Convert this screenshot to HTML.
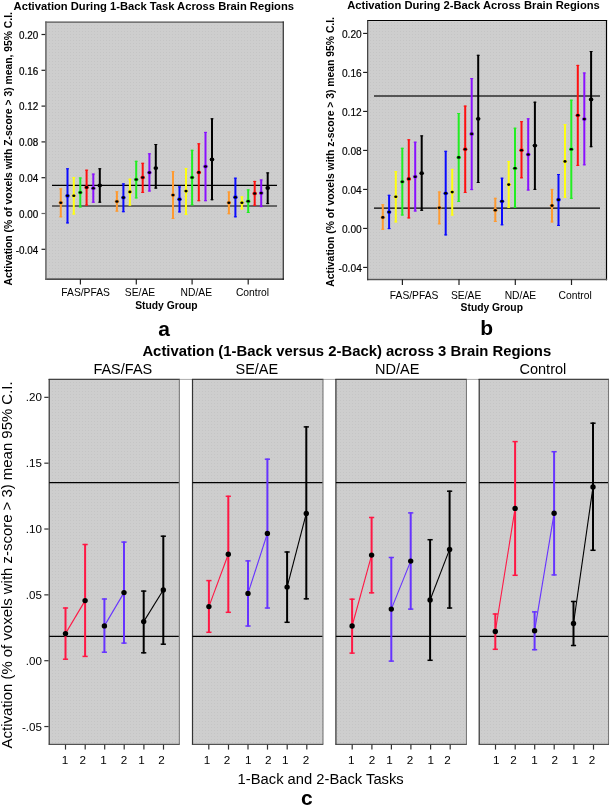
<!DOCTYPE html>
<html><head><meta charset="utf-8"><style>
html,body{margin:0;padding:0;background:#fff;}
body{width:610px;height:805px;overflow:hidden;}
svg{display:block;font-family:"Liberation Sans", sans-serif;will-change:transform;}
</style></head><body>
<svg width="610" height="805" viewBox="0 0 610 805">
<defs>
<pattern id="dots" x="0" y="0" width="3" height="3" patternUnits="userSpaceOnUse">
<rect width="3" height="3" fill="#cecece"/>
<rect x="1" y="1" width="1" height="1" fill="#c5c5c5"/>
</pattern>
</defs>
<rect width="610" height="805" fill="#fff"/>
<rect x="46.7" y="22.8" width="235.90000000000003" height="255.8" fill="url(#dots)"/>
<line x1="45.2" y1="22.15" x2="283.9" y2="22.15" stroke="#4a4a4a" stroke-width="1.3"/>
<line x1="283.25" y1="21.5" x2="283.25" y2="279.8" stroke="#333" stroke-width="1.3"/>
<line x1="45.2" y1="279.2" x2="283.9" y2="279.2" stroke="#111" stroke-width="1.3"/>
<line x1="45.95" y1="21.5" x2="45.95" y2="279.8" stroke="#666" stroke-width="1.6"/>
<line x1="41.5" y1="34.5" x2="45.2" y2="34.5" stroke="#222" stroke-width="1.2"/>
<text x="0" y="0" font-size="9.9" text-anchor="end" fill="#000" transform="translate(38.3 38.8) scale(1 1.04)" stroke="#000" stroke-width="0.2">0.20</text>
<line x1="41.5" y1="70.30000000000001" x2="45.2" y2="70.30000000000001" stroke="#222" stroke-width="1.2"/>
<text x="0" y="0" font-size="9.9" text-anchor="end" fill="#000" transform="translate(38.3 74.60000000000001) scale(1 1.04)" stroke="#000" stroke-width="0.2">0.16</text>
<line x1="41.5" y1="106.10000000000001" x2="45.2" y2="106.10000000000001" stroke="#222" stroke-width="1.2"/>
<text x="0" y="0" font-size="9.9" text-anchor="end" fill="#000" transform="translate(38.3 110.4) scale(1 1.04)" stroke="#000" stroke-width="0.2">0.12</text>
<line x1="41.5" y1="141.9" x2="45.2" y2="141.9" stroke="#222" stroke-width="1.2"/>
<text x="0" y="0" font-size="9.9" text-anchor="end" fill="#000" transform="translate(38.3 146.20000000000002) scale(1 1.04)" stroke="#000" stroke-width="0.2">0.08</text>
<line x1="41.5" y1="177.7" x2="45.2" y2="177.7" stroke="#222" stroke-width="1.2"/>
<text x="0" y="0" font-size="9.9" text-anchor="end" fill="#000" transform="translate(38.3 182.0) scale(1 1.04)" stroke="#000" stroke-width="0.2">0.04</text>
<line x1="41.5" y1="213.5" x2="45.2" y2="213.5" stroke="#666" stroke-width="1.2"/>
<text x="0" y="0" font-size="9.9" text-anchor="end" fill="#000" transform="translate(38.3 217.8) scale(1 1.04)" stroke="#000" stroke-width="0.2">0.00</text>
<line x1="41.5" y1="249.3" x2="45.2" y2="249.3" stroke="#222" stroke-width="1.2"/>
<text x="0" y="0" font-size="9.9" text-anchor="end" fill="#000" transform="translate(38.3 253.60000000000002) scale(1 1.04)" stroke="#000" stroke-width="0.2">-0.04</text>
<line x1="80.4" y1="279.1" x2="80.4" y2="284.5" stroke="#222" stroke-width="1.2"/>
<line x1="136.3" y1="279.1" x2="136.3" y2="284.5" stroke="#222" stroke-width="1.2"/>
<line x1="192.1" y1="279.1" x2="192.1" y2="284.5" stroke="#222" stroke-width="1.2"/>
<line x1="248.2" y1="279.1" x2="248.2" y2="284.5" stroke="#222" stroke-width="1.2"/>
<text x="61.3" y="295.6" font-size="10.3" text-anchor="start" fill="#000">FAS/PFAS</text>
<text x="124.8" y="295.6" font-size="10.3" text-anchor="start" fill="#000">SE/AE</text>
<text x="180.6" y="295.6" font-size="10.3" text-anchor="start" fill="#000">ND/AE</text>
<text x="235.9" y="295.6" font-size="10.3" text-anchor="start" fill="#000">Control</text>
<text x="135.2" y="309.3" font-size="10.3" font-weight="bold" text-anchor="start" fill="#000">Study Group</text>
<text x="158.2" y="336.2" font-size="21" font-weight="bold" text-anchor="start" fill="#000">a</text>
<text x="13.6" y="9.9" font-size="11.2" font-weight="bold" text-anchor="start" fill="#000">Activation During 1-Back Task Across Brain Regions</text>
<text x="12.4" y="285.4" font-size="10.35" font-weight="bold" text-anchor="start" fill="#000" transform="rotate(-90 12.4 285.4)">Activation (% of voxels with Z-score &gt; 3) mean, 95% C.I.</text>
<line x1="52" y1="185.4" x2="277" y2="185.4" stroke="#000" stroke-width="1.3"/>
<line x1="52" y1="205.9" x2="277" y2="205.9" stroke="#666" stroke-width="2"/>
<line x1="60.8" y1="188.4" x2="60.8" y2="217.3" stroke="#ff9a30" stroke-width="2"/>
<line x1="59.3" y1="188.9" x2="62.3" y2="188.9" stroke="#ff9a30" stroke-width="1"/>
<line x1="59.3" y1="216.8" x2="62.3" y2="216.8" stroke="#ff9a30" stroke-width="1"/>
<line x1="67.5" y1="168.3" x2="67.5" y2="223.4" stroke="#0a0aff" stroke-width="2"/>
<line x1="66.0" y1="168.8" x2="69.0" y2="168.8" stroke="#0a0aff" stroke-width="1"/>
<line x1="66.0" y1="222.9" x2="69.0" y2="222.9" stroke="#0a0aff" stroke-width="1"/>
<line x1="73.8" y1="177.1" x2="73.8" y2="214.5" stroke="#ffff10" stroke-width="2"/>
<line x1="72.3" y1="177.6" x2="75.3" y2="177.6" stroke="#ffff10" stroke-width="1"/>
<line x1="72.3" y1="214.0" x2="75.3" y2="214.0" stroke="#ffff10" stroke-width="1"/>
<line x1="80.3" y1="177.5" x2="80.3" y2="207.4" stroke="#22ee22" stroke-width="2"/>
<line x1="78.8" y1="178.0" x2="81.8" y2="178.0" stroke="#22ee22" stroke-width="1"/>
<line x1="78.8" y1="206.9" x2="81.8" y2="206.9" stroke="#22ee22" stroke-width="1"/>
<line x1="86.6" y1="169.7" x2="86.6" y2="205.5" stroke="#ff1010" stroke-width="2"/>
<line x1="85.1" y1="170.2" x2="88.1" y2="170.2" stroke="#ff1010" stroke-width="1"/>
<line x1="85.1" y1="205.0" x2="88.1" y2="205.0" stroke="#ff1010" stroke-width="1"/>
<line x1="93.3" y1="173.6" x2="93.3" y2="202.7" stroke="#8a10ff" stroke-width="2"/>
<line x1="91.8" y1="174.1" x2="94.8" y2="174.1" stroke="#8a10ff" stroke-width="1"/>
<line x1="91.8" y1="202.2" x2="94.8" y2="202.2" stroke="#8a10ff" stroke-width="1"/>
<line x1="99.8" y1="168.3" x2="99.8" y2="202.7" stroke="#000000" stroke-width="2"/>
<line x1="98.3" y1="168.8" x2="101.3" y2="168.8" stroke="#000000" stroke-width="1"/>
<line x1="98.3" y1="202.2" x2="101.3" y2="202.2" stroke="#000000" stroke-width="1"/>
<line x1="116.9" y1="191.3" x2="116.9" y2="211.6" stroke="#ff9a30" stroke-width="2"/>
<line x1="115.4" y1="191.8" x2="118.4" y2="191.8" stroke="#ff9a30" stroke-width="1"/>
<line x1="115.4" y1="211.1" x2="118.4" y2="211.1" stroke="#ff9a30" stroke-width="1"/>
<line x1="123.4" y1="183.4" x2="123.4" y2="212.2" stroke="#0a0aff" stroke-width="2"/>
<line x1="121.9" y1="183.9" x2="124.9" y2="183.9" stroke="#0a0aff" stroke-width="1"/>
<line x1="121.9" y1="211.7" x2="124.9" y2="211.7" stroke="#0a0aff" stroke-width="1"/>
<line x1="129.9" y1="178.7" x2="129.9" y2="205.5" stroke="#ffff10" stroke-width="2"/>
<line x1="128.4" y1="179.2" x2="131.4" y2="179.2" stroke="#ffff10" stroke-width="1"/>
<line x1="128.4" y1="205.0" x2="131.4" y2="205.0" stroke="#ffff10" stroke-width="1"/>
<line x1="136.2" y1="160.8" x2="136.2" y2="198.4" stroke="#22ee22" stroke-width="2"/>
<line x1="134.7" y1="161.3" x2="137.7" y2="161.3" stroke="#22ee22" stroke-width="1"/>
<line x1="134.7" y1="197.9" x2="137.7" y2="197.9" stroke="#22ee22" stroke-width="1"/>
<line x1="142.7" y1="162.8" x2="142.7" y2="192.9" stroke="#ff1010" stroke-width="2"/>
<line x1="141.2" y1="163.3" x2="144.2" y2="163.3" stroke="#ff1010" stroke-width="1"/>
<line x1="141.2" y1="192.4" x2="144.2" y2="192.4" stroke="#ff1010" stroke-width="1"/>
<line x1="149.4" y1="153.3" x2="149.4" y2="191.5" stroke="#8a10ff" stroke-width="2"/>
<line x1="147.9" y1="153.8" x2="150.9" y2="153.8" stroke="#8a10ff" stroke-width="1"/>
<line x1="147.9" y1="191.0" x2="150.9" y2="191.0" stroke="#8a10ff" stroke-width="1"/>
<line x1="155.8" y1="144.0" x2="155.8" y2="188.6" stroke="#000000" stroke-width="2"/>
<line x1="154.3" y1="144.5" x2="157.3" y2="144.5" stroke="#000000" stroke-width="1"/>
<line x1="154.3" y1="188.1" x2="157.3" y2="188.1" stroke="#000000" stroke-width="1"/>
<line x1="173.0" y1="171.2" x2="173.0" y2="218.9" stroke="#ff9a30" stroke-width="2"/>
<line x1="171.5" y1="171.7" x2="174.5" y2="171.7" stroke="#ff9a30" stroke-width="1"/>
<line x1="171.5" y1="218.4" x2="174.5" y2="218.4" stroke="#ff9a30" stroke-width="1"/>
<line x1="179.5" y1="186.4" x2="179.5" y2="212.4" stroke="#0a0aff" stroke-width="2"/>
<line x1="178.0" y1="186.9" x2="181.0" y2="186.9" stroke="#0a0aff" stroke-width="1"/>
<line x1="178.0" y1="211.9" x2="181.0" y2="211.9" stroke="#0a0aff" stroke-width="1"/>
<line x1="186.0" y1="168.1" x2="186.0" y2="214.9" stroke="#ffff10" stroke-width="2"/>
<line x1="184.5" y1="168.6" x2="187.5" y2="168.6" stroke="#ffff10" stroke-width="1"/>
<line x1="184.5" y1="214.4" x2="187.5" y2="214.4" stroke="#ffff10" stroke-width="1"/>
<line x1="192.1" y1="149.8" x2="192.1" y2="205.3" stroke="#22ee22" stroke-width="2"/>
<line x1="190.6" y1="150.3" x2="193.6" y2="150.3" stroke="#22ee22" stroke-width="1"/>
<line x1="190.6" y1="204.8" x2="193.6" y2="204.8" stroke="#22ee22" stroke-width="1"/>
<line x1="198.8" y1="143.3" x2="198.8" y2="201.2" stroke="#ff1010" stroke-width="2"/>
<line x1="197.3" y1="143.8" x2="200.3" y2="143.8" stroke="#ff1010" stroke-width="1"/>
<line x1="197.3" y1="200.7" x2="200.3" y2="200.7" stroke="#ff1010" stroke-width="1"/>
<line x1="205.5" y1="131.9" x2="205.5" y2="201.2" stroke="#8a10ff" stroke-width="2"/>
<line x1="204.0" y1="132.4" x2="207.0" y2="132.4" stroke="#8a10ff" stroke-width="1"/>
<line x1="204.0" y1="200.7" x2="207.0" y2="200.7" stroke="#8a10ff" stroke-width="1"/>
<line x1="212.0" y1="118.3" x2="212.0" y2="200.2" stroke="#000000" stroke-width="2"/>
<line x1="210.5" y1="118.8" x2="213.5" y2="118.8" stroke="#000000" stroke-width="1"/>
<line x1="210.5" y1="199.7" x2="213.5" y2="199.7" stroke="#000000" stroke-width="1"/>
<line x1="228.9" y1="191.5" x2="228.9" y2="214.2" stroke="#ff9a30" stroke-width="2"/>
<line x1="227.4" y1="192.0" x2="230.4" y2="192.0" stroke="#ff9a30" stroke-width="1"/>
<line x1="227.4" y1="213.7" x2="230.4" y2="213.7" stroke="#ff9a30" stroke-width="1"/>
<line x1="235.4" y1="177.7" x2="235.4" y2="217.3" stroke="#0a0aff" stroke-width="2"/>
<line x1="233.9" y1="178.2" x2="236.9" y2="178.2" stroke="#0a0aff" stroke-width="1"/>
<line x1="233.9" y1="216.8" x2="236.9" y2="216.8" stroke="#0a0aff" stroke-width="1"/>
<line x1="241.9" y1="196.4" x2="241.9" y2="209.4" stroke="#ffff10" stroke-width="2"/>
<line x1="240.4" y1="196.9" x2="243.4" y2="196.9" stroke="#ffff10" stroke-width="1"/>
<line x1="240.4" y1="208.9" x2="243.4" y2="208.9" stroke="#ffff10" stroke-width="1"/>
<line x1="248.2" y1="189.4" x2="248.2" y2="213.0" stroke="#22ee22" stroke-width="2"/>
<line x1="246.7" y1="189.9" x2="249.7" y2="189.9" stroke="#22ee22" stroke-width="1"/>
<line x1="246.7" y1="212.5" x2="249.7" y2="212.5" stroke="#22ee22" stroke-width="1"/>
<line x1="254.7" y1="180.9" x2="254.7" y2="205.7" stroke="#ff1010" stroke-width="2"/>
<line x1="253.2" y1="181.4" x2="256.2" y2="181.4" stroke="#ff1010" stroke-width="1"/>
<line x1="253.2" y1="205.2" x2="256.2" y2="205.2" stroke="#ff1010" stroke-width="1"/>
<line x1="261.2" y1="179.5" x2="261.2" y2="207.1" stroke="#8a10ff" stroke-width="2"/>
<line x1="259.7" y1="180.0" x2="262.7" y2="180.0" stroke="#8a10ff" stroke-width="1"/>
<line x1="259.7" y1="206.6" x2="262.7" y2="206.6" stroke="#8a10ff" stroke-width="1"/>
<line x1="267.7" y1="172.4" x2="267.7" y2="204.1" stroke="#000000" stroke-width="2"/>
<line x1="266.2" y1="172.9" x2="269.2" y2="172.9" stroke="#000000" stroke-width="1"/>
<line x1="266.2" y1="203.6" x2="269.2" y2="203.6" stroke="#000000" stroke-width="1"/>
<ellipse cx="60.8" cy="202.7" rx="2.3" ry="1.9" fill="#ff9a30"/>
<ellipse cx="60.8" cy="202.7" rx="1.6" ry="1.3" fill="#000"/>
<ellipse cx="67.5" cy="195.8" rx="2.3" ry="1.9" fill="#0a0aff"/>
<ellipse cx="67.5" cy="195.8" rx="1.6" ry="1.3" fill="#000"/>
<ellipse cx="73.8" cy="195.8" rx="2.3" ry="1.9" fill="#ffff10"/>
<ellipse cx="73.8" cy="195.8" rx="1.6" ry="1.3" fill="#000"/>
<ellipse cx="80.3" cy="192.5" rx="2.3" ry="1.9" fill="#22ee22"/>
<ellipse cx="80.3" cy="192.5" rx="1.6" ry="1.3" fill="#000"/>
<ellipse cx="86.6" cy="187.4" rx="2.3" ry="1.9" fill="#ff1010"/>
<ellipse cx="86.6" cy="187.4" rx="1.6" ry="1.3" fill="#000"/>
<ellipse cx="93.3" cy="188.2" rx="2.3" ry="1.9" fill="#8a10ff"/>
<ellipse cx="93.3" cy="188.2" rx="1.6" ry="1.3" fill="#000"/>
<ellipse cx="99.8" cy="185.4" rx="2.3" ry="1.9" fill="#000000"/>
<ellipse cx="99.8" cy="185.4" rx="1.6" ry="1.3" fill="#000"/>
<ellipse cx="116.9" cy="201.5" rx="2.3" ry="1.9" fill="#ff9a30"/>
<ellipse cx="116.9" cy="201.5" rx="1.6" ry="1.3" fill="#000"/>
<ellipse cx="123.4" cy="197.6" rx="2.3" ry="1.9" fill="#0a0aff"/>
<ellipse cx="123.4" cy="197.6" rx="1.6" ry="1.3" fill="#000"/>
<ellipse cx="129.9" cy="191.9" rx="2.3" ry="1.9" fill="#ffff10"/>
<ellipse cx="129.9" cy="191.9" rx="1.6" ry="1.3" fill="#000"/>
<ellipse cx="136.2" cy="179.5" rx="2.3" ry="1.9" fill="#22ee22"/>
<ellipse cx="136.2" cy="179.5" rx="1.6" ry="1.3" fill="#000"/>
<ellipse cx="142.7" cy="177.5" rx="2.3" ry="1.9" fill="#ff1010"/>
<ellipse cx="142.7" cy="177.5" rx="1.6" ry="1.3" fill="#000"/>
<ellipse cx="149.4" cy="172.6" rx="2.3" ry="1.9" fill="#8a10ff"/>
<ellipse cx="149.4" cy="172.6" rx="1.6" ry="1.3" fill="#000"/>
<ellipse cx="155.8" cy="168.1" rx="2.3" ry="1.9" fill="#000000"/>
<ellipse cx="155.8" cy="168.1" rx="1.6" ry="1.3" fill="#000"/>
<ellipse cx="173.0" cy="195.1" rx="2.3" ry="1.9" fill="#ff9a30"/>
<ellipse cx="173.0" cy="195.1" rx="1.6" ry="1.3" fill="#000"/>
<ellipse cx="179.5" cy="199.2" rx="2.3" ry="1.9" fill="#0a0aff"/>
<ellipse cx="179.5" cy="199.2" rx="1.6" ry="1.3" fill="#000"/>
<ellipse cx="186.0" cy="191.1" rx="2.3" ry="1.9" fill="#ffff10"/>
<ellipse cx="186.0" cy="191.1" rx="1.6" ry="1.3" fill="#000"/>
<ellipse cx="192.1" cy="177.5" rx="2.3" ry="1.9" fill="#22ee22"/>
<ellipse cx="192.1" cy="177.5" rx="1.6" ry="1.3" fill="#000"/>
<ellipse cx="198.8" cy="172.4" rx="2.3" ry="1.9" fill="#ff1010"/>
<ellipse cx="198.8" cy="172.4" rx="1.6" ry="1.3" fill="#000"/>
<ellipse cx="205.5" cy="166.5" rx="2.3" ry="1.9" fill="#8a10ff"/>
<ellipse cx="205.5" cy="166.5" rx="1.6" ry="1.3" fill="#000"/>
<ellipse cx="212.0" cy="159.4" rx="2.3" ry="1.9" fill="#000000"/>
<ellipse cx="212.0" cy="159.4" rx="1.6" ry="1.3" fill="#000"/>
<ellipse cx="228.9" cy="202.7" rx="2.3" ry="1.9" fill="#ff9a30"/>
<ellipse cx="228.9" cy="202.7" rx="1.6" ry="1.3" fill="#000"/>
<ellipse cx="235.4" cy="197.2" rx="2.3" ry="1.9" fill="#0a0aff"/>
<ellipse cx="235.4" cy="197.2" rx="1.6" ry="1.3" fill="#000"/>
<ellipse cx="241.9" cy="202.7" rx="2.3" ry="1.9" fill="#ffff10"/>
<ellipse cx="241.9" cy="202.7" rx="1.6" ry="1.3" fill="#000"/>
<ellipse cx="248.2" cy="201.2" rx="2.3" ry="1.9" fill="#22ee22"/>
<ellipse cx="248.2" cy="201.2" rx="1.6" ry="1.3" fill="#000"/>
<ellipse cx="254.7" cy="193.5" rx="2.3" ry="1.9" fill="#ff1010"/>
<ellipse cx="254.7" cy="193.5" rx="1.6" ry="1.3" fill="#000"/>
<ellipse cx="261.2" cy="193.1" rx="2.3" ry="1.9" fill="#8a10ff"/>
<ellipse cx="261.2" cy="193.1" rx="1.6" ry="1.3" fill="#000"/>
<ellipse cx="267.7" cy="188.0" rx="2.3" ry="1.9" fill="#000000"/>
<ellipse cx="267.7" cy="188.0" rx="1.6" ry="1.3" fill="#000"/>
<rect x="368.2" y="21.1" width="237.7" height="257.7" fill="url(#dots)"/>
<line x1="367.2" y1="20.55" x2="607.1" y2="20.55" stroke="#000" stroke-width="1.1"/>
<line x1="606.5" y1="20" x2="606.5" y2="280.3" stroke="#000" stroke-width="1.2"/>
<line x1="367.2" y1="279.55" x2="607.1" y2="279.55" stroke="#555" stroke-width="1.5"/>
<line x1="367.7" y1="20" x2="367.7" y2="280.3" stroke="#333" stroke-width="1.2"/>
<line x1="363.1" y1="33.400000000000006" x2="367.2" y2="33.400000000000006" stroke="#111" stroke-width="1.1"/>
<text x="0" y="0" font-size="10.2" text-anchor="end" fill="#000" transform="translate(361.8 38.10000000000001) scale(1 1.08)" stroke="#000" stroke-width="0.15">0.20</text>
<line x1="363.1" y1="72.4" x2="367.2" y2="72.4" stroke="#111" stroke-width="1.1"/>
<text x="0" y="0" font-size="10.2" text-anchor="end" fill="#000" transform="translate(361.8 77.10000000000001) scale(1 1.08)" stroke="#000" stroke-width="0.15">0.16</text>
<line x1="363.1" y1="111.4" x2="367.2" y2="111.4" stroke="#111" stroke-width="1.1"/>
<text x="0" y="0" font-size="10.2" text-anchor="end" fill="#000" transform="translate(361.8 116.10000000000001) scale(1 1.08)" stroke="#000" stroke-width="0.15">0.12</text>
<line x1="363.1" y1="150.4" x2="367.2" y2="150.4" stroke="#111" stroke-width="1.1"/>
<text x="0" y="0" font-size="10.2" text-anchor="end" fill="#000" transform="translate(361.8 155.1) scale(1 1.08)" stroke="#000" stroke-width="0.15">0.08</text>
<line x1="363.1" y1="189.4" x2="367.2" y2="189.4" stroke="#111" stroke-width="1.1"/>
<text x="0" y="0" font-size="10.2" text-anchor="end" fill="#000" transform="translate(361.8 194.1) scale(1 1.08)" stroke="#000" stroke-width="0.15">0.04</text>
<line x1="363.1" y1="228.4" x2="367.2" y2="228.4" stroke="#111" stroke-width="1.1"/>
<text x="0" y="0" font-size="10.2" text-anchor="end" fill="#000" transform="translate(361.8 233.1) scale(1 1.08)" stroke="#000" stroke-width="0.15">0.00</text>
<line x1="363.1" y1="267.4" x2="367.2" y2="267.4" stroke="#111" stroke-width="1.1"/>
<text x="0" y="0" font-size="10.2" text-anchor="end" fill="#000" transform="translate(361.8 272.09999999999997) scale(1 1.08)" stroke="#000" stroke-width="0.15">-0.04</text>
<line x1="402.4" y1="279.3" x2="402.4" y2="285" stroke="#222" stroke-width="1.2"/>
<line x1="459.0" y1="279.3" x2="459.0" y2="285" stroke="#222" stroke-width="1.2"/>
<line x1="515.3" y1="279.3" x2="515.3" y2="285" stroke="#222" stroke-width="1.2"/>
<line x1="571.5" y1="279.3" x2="571.5" y2="285" stroke="#222" stroke-width="1.2"/>
<text x="389.8" y="298.5" font-size="10.3" text-anchor="start" fill="#000">FAS/PFAS</text>
<text x="451.0" y="298.5" font-size="10.3" text-anchor="start" fill="#000">SE/AE</text>
<text x="504.7" y="298.5" font-size="10.3" text-anchor="start" fill="#000">ND/AE</text>
<text x="558.5" y="298.5" font-size="10.3" text-anchor="start" fill="#000">Control</text>
<text x="460.6" y="311.2" font-size="10.3" font-weight="bold" text-anchor="start" fill="#000">Study Group</text>
<text x="480.2" y="334.6" font-size="21" font-weight="bold" text-anchor="start" fill="#000">b</text>
<text x="347.2" y="8.6" font-size="11.2" font-weight="bold" text-anchor="start" fill="#000">Activation During 2-Back Across Brain Regions</text>
<text x="334.4" y="286.7" font-size="10.37" font-weight="bold" text-anchor="start" fill="#000" transform="rotate(-90 334.4 286.7)">Activation (% of voxels with z-score &gt; 3) mean 95% C.I.</text>
<line x1="374" y1="208.2" x2="600" y2="208.2" stroke="#000" stroke-width="1.3"/>
<line x1="374" y1="96.1" x2="600" y2="96.1" stroke="#555" stroke-width="2"/>
<line x1="382.8" y1="204.3" x2="382.8" y2="229.8" stroke="#ff9a30" stroke-width="2"/>
<line x1="381.3" y1="204.8" x2="384.3" y2="204.8" stroke="#ff9a30" stroke-width="1"/>
<line x1="381.3" y1="229.3" x2="384.3" y2="229.3" stroke="#ff9a30" stroke-width="1"/>
<line x1="389.1" y1="194.8" x2="389.1" y2="229.1" stroke="#0a0aff" stroke-width="2"/>
<line x1="387.6" y1="195.3" x2="390.6" y2="195.3" stroke="#0a0aff" stroke-width="1"/>
<line x1="387.6" y1="228.6" x2="390.6" y2="228.6" stroke="#0a0aff" stroke-width="1"/>
<line x1="395.8" y1="171.2" x2="395.8" y2="222.4" stroke="#ffff10" stroke-width="2"/>
<line x1="394.3" y1="171.7" x2="397.3" y2="171.7" stroke="#ffff10" stroke-width="1"/>
<line x1="394.3" y1="221.9" x2="397.3" y2="221.9" stroke="#ffff10" stroke-width="1"/>
<line x1="402.3" y1="147.8" x2="402.3" y2="215.5" stroke="#22ee22" stroke-width="2"/>
<line x1="400.8" y1="148.3" x2="403.8" y2="148.3" stroke="#22ee22" stroke-width="1"/>
<line x1="400.8" y1="215.0" x2="403.8" y2="215.0" stroke="#22ee22" stroke-width="1"/>
<line x1="408.8" y1="139.3" x2="408.8" y2="218.4" stroke="#ff1010" stroke-width="2"/>
<line x1="407.3" y1="139.8" x2="410.3" y2="139.8" stroke="#ff1010" stroke-width="1"/>
<line x1="407.3" y1="217.9" x2="410.3" y2="217.9" stroke="#ff1010" stroke-width="1"/>
<line x1="415.2" y1="141.7" x2="415.2" y2="211.5" stroke="#8a10ff" stroke-width="2"/>
<line x1="413.7" y1="142.2" x2="416.7" y2="142.2" stroke="#8a10ff" stroke-width="1"/>
<line x1="413.7" y1="211.0" x2="416.7" y2="211.0" stroke="#8a10ff" stroke-width="1"/>
<line x1="421.7" y1="135.4" x2="421.7" y2="210.8" stroke="#000000" stroke-width="2"/>
<line x1="420.2" y1="135.9" x2="423.2" y2="135.9" stroke="#000000" stroke-width="1"/>
<line x1="420.2" y1="210.3" x2="423.2" y2="210.3" stroke="#000000" stroke-width="1"/>
<line x1="439.3" y1="191.5" x2="439.3" y2="224.3" stroke="#ff9a30" stroke-width="2"/>
<line x1="437.8" y1="192.0" x2="440.8" y2="192.0" stroke="#ff9a30" stroke-width="1"/>
<line x1="437.8" y1="223.8" x2="440.8" y2="223.8" stroke="#ff9a30" stroke-width="1"/>
<line x1="445.7" y1="150.8" x2="445.7" y2="235.4" stroke="#0a0aff" stroke-width="2"/>
<line x1="444.2" y1="151.3" x2="447.2" y2="151.3" stroke="#0a0aff" stroke-width="1"/>
<line x1="444.2" y1="234.9" x2="447.2" y2="234.9" stroke="#0a0aff" stroke-width="1"/>
<line x1="452.2" y1="168.9" x2="452.2" y2="215.5" stroke="#ffff10" stroke-width="2"/>
<line x1="450.7" y1="169.4" x2="453.7" y2="169.4" stroke="#ffff10" stroke-width="1"/>
<line x1="450.7" y1="215.0" x2="453.7" y2="215.0" stroke="#ffff10" stroke-width="1"/>
<line x1="458.7" y1="113.0" x2="458.7" y2="201.9" stroke="#22ee22" stroke-width="2"/>
<line x1="457.2" y1="113.5" x2="460.2" y2="113.5" stroke="#22ee22" stroke-width="1"/>
<line x1="457.2" y1="201.4" x2="460.2" y2="201.4" stroke="#22ee22" stroke-width="1"/>
<line x1="465.2" y1="105.6" x2="465.2" y2="192.9" stroke="#ff1010" stroke-width="2"/>
<line x1="463.7" y1="106.1" x2="466.7" y2="106.1" stroke="#ff1010" stroke-width="1"/>
<line x1="463.7" y1="192.4" x2="466.7" y2="192.4" stroke="#ff1010" stroke-width="1"/>
<line x1="471.7" y1="78.1" x2="471.7" y2="190.1" stroke="#8a10ff" stroke-width="2"/>
<line x1="470.2" y1="78.6" x2="473.2" y2="78.6" stroke="#8a10ff" stroke-width="1"/>
<line x1="470.2" y1="189.6" x2="473.2" y2="189.6" stroke="#8a10ff" stroke-width="1"/>
<line x1="478.2" y1="54.8" x2="478.2" y2="183.0" stroke="#000000" stroke-width="2"/>
<line x1="476.7" y1="55.3" x2="479.7" y2="55.3" stroke="#000000" stroke-width="1"/>
<line x1="476.7" y1="182.5" x2="479.7" y2="182.5" stroke="#000000" stroke-width="1"/>
<line x1="495.3" y1="197.8" x2="495.3" y2="222.0" stroke="#ff9a30" stroke-width="2"/>
<line x1="493.8" y1="198.3" x2="496.8" y2="198.3" stroke="#ff9a30" stroke-width="1"/>
<line x1="493.8" y1="221.5" x2="496.8" y2="221.5" stroke="#ff9a30" stroke-width="1"/>
<line x1="502.0" y1="177.7" x2="502.0" y2="225.3" stroke="#0a0aff" stroke-width="2"/>
<line x1="500.5" y1="178.2" x2="503.5" y2="178.2" stroke="#0a0aff" stroke-width="1"/>
<line x1="500.5" y1="224.8" x2="503.5" y2="224.8" stroke="#0a0aff" stroke-width="1"/>
<line x1="508.7" y1="161.0" x2="508.7" y2="207.8" stroke="#ffff10" stroke-width="2"/>
<line x1="507.2" y1="161.5" x2="510.2" y2="161.5" stroke="#ffff10" stroke-width="1"/>
<line x1="507.2" y1="207.3" x2="510.2" y2="207.3" stroke="#ffff10" stroke-width="1"/>
<line x1="515.0" y1="127.7" x2="515.0" y2="207.8" stroke="#22ee22" stroke-width="2"/>
<line x1="513.5" y1="128.2" x2="516.5" y2="128.2" stroke="#22ee22" stroke-width="1"/>
<line x1="513.5" y1="207.3" x2="516.5" y2="207.3" stroke="#22ee22" stroke-width="1"/>
<line x1="521.5" y1="121.2" x2="521.5" y2="178.3" stroke="#ff1010" stroke-width="2"/>
<line x1="520.0" y1="121.7" x2="523.0" y2="121.7" stroke="#ff1010" stroke-width="1"/>
<line x1="520.0" y1="177.8" x2="523.0" y2="177.8" stroke="#ff1010" stroke-width="1"/>
<line x1="528.2" y1="118.3" x2="528.2" y2="190.5" stroke="#8a10ff" stroke-width="2"/>
<line x1="526.7" y1="118.8" x2="529.7" y2="118.8" stroke="#8a10ff" stroke-width="1"/>
<line x1="526.7" y1="190.0" x2="529.7" y2="190.0" stroke="#8a10ff" stroke-width="1"/>
<line x1="534.9" y1="101.7" x2="534.9" y2="189.9" stroke="#000000" stroke-width="2"/>
<line x1="533.4" y1="102.2" x2="536.4" y2="102.2" stroke="#000000" stroke-width="1"/>
<line x1="533.4" y1="189.4" x2="536.4" y2="189.4" stroke="#000000" stroke-width="1"/>
<line x1="552.0" y1="188.9" x2="552.0" y2="222.4" stroke="#ff9a30" stroke-width="2"/>
<line x1="550.5" y1="189.4" x2="553.5" y2="189.4" stroke="#ff9a30" stroke-width="1"/>
<line x1="550.5" y1="221.9" x2="553.5" y2="221.9" stroke="#ff9a30" stroke-width="1"/>
<line x1="558.5" y1="174.0" x2="558.5" y2="225.9" stroke="#0a0aff" stroke-width="2"/>
<line x1="557.0" y1="174.5" x2="560.0" y2="174.5" stroke="#0a0aff" stroke-width="1"/>
<line x1="557.0" y1="225.4" x2="560.0" y2="225.4" stroke="#0a0aff" stroke-width="1"/>
<line x1="565.0" y1="124.2" x2="565.0" y2="197.8" stroke="#ffff10" stroke-width="2"/>
<line x1="563.5" y1="124.7" x2="566.5" y2="124.7" stroke="#ffff10" stroke-width="1"/>
<line x1="563.5" y1="197.3" x2="566.5" y2="197.3" stroke="#ffff10" stroke-width="1"/>
<line x1="571.3" y1="99.7" x2="571.3" y2="198.8" stroke="#22ee22" stroke-width="2"/>
<line x1="569.8" y1="100.2" x2="572.8" y2="100.2" stroke="#22ee22" stroke-width="1"/>
<line x1="569.8" y1="198.3" x2="572.8" y2="198.3" stroke="#22ee22" stroke-width="1"/>
<line x1="577.8" y1="64.9" x2="577.8" y2="165.9" stroke="#ff1010" stroke-width="2"/>
<line x1="576.3" y1="65.4" x2="579.3" y2="65.4" stroke="#ff1010" stroke-width="1"/>
<line x1="576.3" y1="165.4" x2="579.3" y2="165.4" stroke="#ff1010" stroke-width="1"/>
<line x1="584.3" y1="72.5" x2="584.3" y2="165.3" stroke="#8a10ff" stroke-width="2"/>
<line x1="582.8" y1="73.0" x2="585.8" y2="73.0" stroke="#8a10ff" stroke-width="1"/>
<line x1="582.8" y1="164.8" x2="585.8" y2="164.8" stroke="#8a10ff" stroke-width="1"/>
<line x1="591.1" y1="51.0" x2="591.1" y2="147.2" stroke="#000000" stroke-width="2"/>
<line x1="589.6" y1="51.5" x2="592.6" y2="51.5" stroke="#000000" stroke-width="1"/>
<line x1="589.6" y1="146.7" x2="592.6" y2="146.7" stroke="#000000" stroke-width="1"/>
<ellipse cx="382.8" cy="217.4" rx="2.3" ry="1.9" fill="#ff9a30"/>
<ellipse cx="382.8" cy="217.4" rx="1.6" ry="1.3" fill="#000"/>
<ellipse cx="389.1" cy="212.1" rx="2.3" ry="1.9" fill="#0a0aff"/>
<ellipse cx="389.1" cy="212.1" rx="1.6" ry="1.3" fill="#000"/>
<ellipse cx="395.8" cy="196.8" rx="2.3" ry="1.9" fill="#ffff10"/>
<ellipse cx="395.8" cy="196.8" rx="1.6" ry="1.3" fill="#000"/>
<ellipse cx="402.3" cy="181.8" rx="2.3" ry="1.9" fill="#22ee22"/>
<ellipse cx="402.3" cy="181.8" rx="1.6" ry="1.3" fill="#000"/>
<ellipse cx="408.8" cy="178.9" rx="2.3" ry="1.9" fill="#ff1010"/>
<ellipse cx="408.8" cy="178.9" rx="1.6" ry="1.3" fill="#000"/>
<ellipse cx="415.2" cy="176.7" rx="2.3" ry="1.9" fill="#8a10ff"/>
<ellipse cx="415.2" cy="176.7" rx="1.6" ry="1.3" fill="#000"/>
<ellipse cx="421.7" cy="173.2" rx="2.3" ry="1.9" fill="#000000"/>
<ellipse cx="421.7" cy="173.2" rx="1.6" ry="1.3" fill="#000"/>
<ellipse cx="439.3" cy="207.8" rx="2.3" ry="1.9" fill="#ff9a30"/>
<ellipse cx="439.3" cy="207.8" rx="1.6" ry="1.3" fill="#000"/>
<ellipse cx="445.7" cy="193.3" rx="2.3" ry="1.9" fill="#0a0aff"/>
<ellipse cx="445.7" cy="193.3" rx="1.6" ry="1.3" fill="#000"/>
<ellipse cx="452.2" cy="192.1" rx="2.3" ry="1.9" fill="#ffff10"/>
<ellipse cx="452.2" cy="192.1" rx="1.6" ry="1.3" fill="#000"/>
<ellipse cx="458.7" cy="157.4" rx="2.3" ry="1.9" fill="#22ee22"/>
<ellipse cx="458.7" cy="157.4" rx="1.6" ry="1.3" fill="#000"/>
<ellipse cx="465.2" cy="149.2" rx="2.3" ry="1.9" fill="#ff1010"/>
<ellipse cx="465.2" cy="149.2" rx="1.6" ry="1.3" fill="#000"/>
<ellipse cx="471.7" cy="133.9" rx="2.3" ry="1.9" fill="#8a10ff"/>
<ellipse cx="471.7" cy="133.9" rx="1.6" ry="1.3" fill="#000"/>
<ellipse cx="478.2" cy="118.8" rx="2.3" ry="1.9" fill="#000000"/>
<ellipse cx="478.2" cy="118.8" rx="1.6" ry="1.3" fill="#000"/>
<ellipse cx="495.3" cy="210.2" rx="2.3" ry="1.9" fill="#ff9a30"/>
<ellipse cx="495.3" cy="210.2" rx="1.6" ry="1.3" fill="#000"/>
<ellipse cx="502.0" cy="201.3" rx="2.3" ry="1.9" fill="#0a0aff"/>
<ellipse cx="502.0" cy="201.3" rx="1.6" ry="1.3" fill="#000"/>
<ellipse cx="508.7" cy="184.6" rx="2.3" ry="1.9" fill="#ffff10"/>
<ellipse cx="508.7" cy="184.6" rx="1.6" ry="1.3" fill="#000"/>
<ellipse cx="515.0" cy="168.3" rx="2.3" ry="1.9" fill="#22ee22"/>
<ellipse cx="515.0" cy="168.3" rx="1.6" ry="1.3" fill="#000"/>
<ellipse cx="521.5" cy="150.2" rx="2.3" ry="1.9" fill="#ff1010"/>
<ellipse cx="521.5" cy="150.2" rx="1.6" ry="1.3" fill="#000"/>
<ellipse cx="528.2" cy="154.5" rx="2.3" ry="1.9" fill="#8a10ff"/>
<ellipse cx="528.2" cy="154.5" rx="1.6" ry="1.3" fill="#000"/>
<ellipse cx="534.9" cy="145.6" rx="2.3" ry="1.9" fill="#000000"/>
<ellipse cx="534.9" cy="145.6" rx="1.6" ry="1.3" fill="#000"/>
<ellipse cx="552.0" cy="205.6" rx="2.3" ry="1.9" fill="#ff9a30"/>
<ellipse cx="552.0" cy="205.6" rx="1.6" ry="1.3" fill="#000"/>
<ellipse cx="558.5" cy="199.7" rx="2.3" ry="1.9" fill="#0a0aff"/>
<ellipse cx="558.5" cy="199.7" rx="1.6" ry="1.3" fill="#000"/>
<ellipse cx="565.0" cy="161.4" rx="2.3" ry="1.9" fill="#ffff10"/>
<ellipse cx="565.0" cy="161.4" rx="1.6" ry="1.3" fill="#000"/>
<ellipse cx="571.3" cy="149.2" rx="2.3" ry="1.9" fill="#22ee22"/>
<ellipse cx="571.3" cy="149.2" rx="1.6" ry="1.3" fill="#000"/>
<ellipse cx="577.8" cy="115.3" rx="2.3" ry="1.9" fill="#ff1010"/>
<ellipse cx="577.8" cy="115.3" rx="1.6" ry="1.3" fill="#000"/>
<ellipse cx="584.3" cy="119.1" rx="2.3" ry="1.9" fill="#8a10ff"/>
<ellipse cx="584.3" cy="119.1" rx="1.6" ry="1.3" fill="#000"/>
<ellipse cx="591.1" cy="99.4" rx="2.3" ry="1.9" fill="#000000"/>
<ellipse cx="591.1" cy="99.4" rx="1.6" ry="1.3" fill="#000"/>
<text x="142.4" y="355.6" font-size="14.87" font-weight="bold" text-anchor="start" fill="#000">Activation (1-Back versus 2-Back) across 3 Brain Regions</text>
<line x1="49" y1="379.4" x2="609" y2="379.4" stroke="#aaa" stroke-width="1.0"/>
<rect x="49.2" y="379.5" width="130.60000000000002" height="364.5" fill="url(#dots)"/>
<line x1="48.6" y1="379.4" x2="179.8" y2="379.4" stroke="#444" stroke-width="1.1"/>
<line x1="49.2" y1="378.9" x2="49.2" y2="744.6" stroke="#333" stroke-width="1.2"/>
<line x1="179.35000000000002" y1="379.5" x2="179.35000000000002" y2="744.0" stroke="#6a6a6a" stroke-width="0.9"/>
<line x1="48.6" y1="744.35" x2="179.8" y2="744.35" stroke="#333" stroke-width="1.0"/>
<line x1="49.2" y1="482.6" x2="178.8" y2="482.6" stroke="#000" stroke-width="1.2"/>
<line x1="49.2" y1="636.4" x2="178.8" y2="636.4" stroke="#000" stroke-width="1.2"/>
<line x1="65.5" y1="744.6" x2="65.5" y2="749.6" stroke="#333" stroke-width="1.2"/>
<line x1="85.2" y1="744.6" x2="85.2" y2="749.6" stroke="#333" stroke-width="1.2"/>
<line x1="104.7" y1="744.6" x2="104.7" y2="749.6" stroke="#333" stroke-width="1.2"/>
<line x1="124.2" y1="744.6" x2="124.2" y2="749.6" stroke="#333" stroke-width="1.2"/>
<line x1="143.9" y1="744.6" x2="143.9" y2="749.6" stroke="#333" stroke-width="1.2"/>
<line x1="163.5" y1="744.6" x2="163.5" y2="749.6" stroke="#333" stroke-width="1.2"/>
<rect x="192.5" y="379.5" width="130.89999999999998" height="364.5" fill="url(#dots)"/>
<line x1="191.9" y1="379.4" x2="323.4" y2="379.4" stroke="#444" stroke-width="1.1"/>
<line x1="192.5" y1="378.9" x2="192.5" y2="744.6" stroke="#333" stroke-width="1.2"/>
<line x1="322.95" y1="379.5" x2="322.95" y2="744.0" stroke="#6a6a6a" stroke-width="0.9"/>
<line x1="191.9" y1="744.35" x2="323.4" y2="744.35" stroke="#333" stroke-width="1.0"/>
<line x1="192.5" y1="482.6" x2="322.4" y2="482.6" stroke="#000" stroke-width="1.2"/>
<line x1="192.5" y1="636.4" x2="322.4" y2="636.4" stroke="#000" stroke-width="1.2"/>
<line x1="208.8" y1="744.6" x2="208.8" y2="749.6" stroke="#333" stroke-width="1.2"/>
<line x1="228.5" y1="744.6" x2="228.5" y2="749.6" stroke="#333" stroke-width="1.2"/>
<line x1="248.0" y1="744.6" x2="248.0" y2="749.6" stroke="#333" stroke-width="1.2"/>
<line x1="267.5" y1="744.6" x2="267.5" y2="749.6" stroke="#333" stroke-width="1.2"/>
<line x1="287.2" y1="744.6" x2="287.2" y2="749.6" stroke="#333" stroke-width="1.2"/>
<line x1="306.8" y1="744.6" x2="306.8" y2="749.6" stroke="#333" stroke-width="1.2"/>
<rect x="335.9" y="379.5" width="131.0" height="364.5" fill="url(#dots)"/>
<line x1="335.29999999999995" y1="379.4" x2="466.9" y2="379.4" stroke="#444" stroke-width="1.1"/>
<line x1="335.9" y1="378.9" x2="335.9" y2="744.6" stroke="#333" stroke-width="1.2"/>
<line x1="466.45" y1="379.5" x2="466.45" y2="744.0" stroke="#6a6a6a" stroke-width="0.9"/>
<line x1="335.29999999999995" y1="744.35" x2="466.9" y2="744.35" stroke="#333" stroke-width="1.0"/>
<line x1="335.9" y1="482.6" x2="465.9" y2="482.6" stroke="#000" stroke-width="1.2"/>
<line x1="335.9" y1="636.4" x2="465.9" y2="636.4" stroke="#000" stroke-width="1.2"/>
<line x1="352.2" y1="744.6" x2="352.2" y2="749.6" stroke="#333" stroke-width="1.2"/>
<line x1="371.9" y1="744.6" x2="371.9" y2="749.6" stroke="#333" stroke-width="1.2"/>
<line x1="391.4" y1="744.6" x2="391.4" y2="749.6" stroke="#333" stroke-width="1.2"/>
<line x1="410.9" y1="744.6" x2="410.9" y2="749.6" stroke="#333" stroke-width="1.2"/>
<line x1="430.59999999999997" y1="744.6" x2="430.59999999999997" y2="749.6" stroke="#333" stroke-width="1.2"/>
<line x1="450.2" y1="744.6" x2="450.2" y2="749.6" stroke="#333" stroke-width="1.2"/>
<rect x="479.2" y="379.5" width="129.8" height="364.5" fill="url(#dots)"/>
<line x1="478.59999999999997" y1="379.4" x2="609.0" y2="379.4" stroke="#444" stroke-width="1.1"/>
<line x1="479.2" y1="378.9" x2="479.2" y2="744.6" stroke="#333" stroke-width="1.2"/>
<line x1="608.55" y1="379.5" x2="608.55" y2="744.0" stroke="#6a6a6a" stroke-width="0.9"/>
<line x1="478.59999999999997" y1="744.35" x2="609.0" y2="744.35" stroke="#333" stroke-width="1.0"/>
<line x1="479.2" y1="482.6" x2="608.0" y2="482.6" stroke="#000" stroke-width="1.2"/>
<line x1="479.2" y1="636.4" x2="608.0" y2="636.4" stroke="#000" stroke-width="1.2"/>
<line x1="495.5" y1="744.6" x2="495.5" y2="749.6" stroke="#333" stroke-width="1.2"/>
<line x1="515.2" y1="744.6" x2="515.2" y2="749.6" stroke="#333" stroke-width="1.2"/>
<line x1="534.7" y1="744.6" x2="534.7" y2="749.6" stroke="#333" stroke-width="1.2"/>
<line x1="554.2" y1="744.6" x2="554.2" y2="749.6" stroke="#333" stroke-width="1.2"/>
<line x1="573.9" y1="744.6" x2="573.9" y2="749.6" stroke="#333" stroke-width="1.2"/>
<line x1="593.5" y1="744.6" x2="593.5" y2="749.6" stroke="#333" stroke-width="1.2"/>
<text x="65.0" y="764.0" font-size="11.7" text-anchor="middle" fill="#000">1</text>
<text x="82.7" y="764.0" font-size="11.7" text-anchor="middle" fill="#000">2</text>
<text x="103.4" y="764.0" font-size="11.7" text-anchor="middle" fill="#000">1</text>
<text x="124.1" y="764.0" font-size="11.7" text-anchor="middle" fill="#000">2</text>
<text x="141.4" y="764.0" font-size="11.7" text-anchor="middle" fill="#000">1</text>
<text x="161.4" y="764.0" font-size="11.7" text-anchor="middle" fill="#000">2</text>
<text x="206.9" y="764.0" font-size="11.7" text-anchor="middle" fill="#000">1</text>
<text x="227.1" y="764.0" font-size="11.7" text-anchor="middle" fill="#000">2</text>
<text x="248.2" y="764.0" font-size="11.7" text-anchor="middle" fill="#000">1</text>
<text x="268.2" y="764.0" font-size="11.7" text-anchor="middle" fill="#000">2</text>
<text x="285.2" y="764.0" font-size="11.7" text-anchor="middle" fill="#000">1</text>
<text x="306.0" y="764.0" font-size="11.7" text-anchor="middle" fill="#000">2</text>
<text x="351.2" y="764.0" font-size="11.7" text-anchor="middle" fill="#000">1</text>
<text x="371.9" y="764.0" font-size="11.7" text-anchor="middle" fill="#000">2</text>
<text x="389.4" y="764.0" font-size="11.7" text-anchor="middle" fill="#000">1</text>
<text x="409.9" y="764.0" font-size="11.7" text-anchor="middle" fill="#000">2</text>
<text x="430.7" y="764.0" font-size="11.7" text-anchor="middle" fill="#000">1</text>
<text x="447.6" y="764.0" font-size="11.7" text-anchor="middle" fill="#000">2</text>
<text x="496.2" y="764.0" font-size="11.7" text-anchor="middle" fill="#000">1</text>
<text x="513.5" y="764.0" font-size="11.7" text-anchor="middle" fill="#000">2</text>
<text x="534.4" y="764.0" font-size="11.7" text-anchor="middle" fill="#000">1</text>
<text x="554.8" y="764.0" font-size="11.7" text-anchor="middle" fill="#000">2</text>
<text x="575.1" y="764.0" font-size="11.7" text-anchor="middle" fill="#000">1</text>
<text x="592.0" y="764.0" font-size="11.7" text-anchor="middle" fill="#000">2</text>
<text x="93.4" y="373.5" font-size="14.5" text-anchor="start" fill="#000">FAS/FAS</text>
<text x="235.5" y="373.5" font-size="14.5" text-anchor="start" fill="#000">SE/AE</text>
<text x="375.1" y="373.5" font-size="14.5" text-anchor="start" fill="#000">ND/AE</text>
<text x="519.5" y="373.5" font-size="14.5" text-anchor="start" fill="#000">Control</text>
<line x1="44.3" y1="397.34000000000003" x2="48.6" y2="397.34000000000003" stroke="#333" stroke-width="1.2"/>
<text x="41.9" y="401.44000000000005" font-size="11.6" text-anchor="end" fill="#000">.20</text>
<line x1="44.3" y1="463.18000000000006" x2="48.6" y2="463.18000000000006" stroke="#333" stroke-width="1.2"/>
<text x="41.9" y="467.2800000000001" font-size="11.6" text-anchor="end" fill="#000">.15</text>
<line x1="44.3" y1="529.02" x2="48.6" y2="529.02" stroke="#333" stroke-width="1.2"/>
<text x="41.9" y="533.12" font-size="11.6" text-anchor="end" fill="#000">.10</text>
<line x1="44.3" y1="594.86" x2="48.6" y2="594.86" stroke="#333" stroke-width="1.2"/>
<text x="41.9" y="598.96" font-size="11.6" text-anchor="end" fill="#000">.05</text>
<line x1="44.3" y1="660.7" x2="48.6" y2="660.7" stroke="#333" stroke-width="1.2"/>
<text x="41.9" y="664.8000000000001" font-size="11.6" text-anchor="end" fill="#000">.00</text>
<line x1="44.3" y1="726.5400000000001" x2="48.6" y2="726.5400000000001" stroke="#333" stroke-width="1.2"/>
<text x="41.9" y="730.6400000000001" font-size="11.6" text-anchor="end" fill="#000">-.05</text>
<text x="237.6" y="783.6" font-size="14.75" text-anchor="start" fill="#000">1-Back and 2-Back Tasks</text>
<text x="301.0" y="805.4" font-size="21" font-weight="bold" text-anchor="start" fill="#000">c</text>
<text x="11.6" y="748.4" font-size="14.93" text-anchor="start" fill="#000" transform="rotate(-90 11.6 748.4)">Activation (% of voxels with z-score &gt; 3) mean 95% C.I.</text>
<line x1="65.5" y1="607.4" x2="65.5" y2="659.8" stroke="#ff1744" stroke-width="2.0"/>
<line x1="62.9" y1="608.0" x2="68.1" y2="608.0" stroke="#ff1744" stroke-width="1.5"/>
<line x1="62.9" y1="659.1999999999999" x2="68.1" y2="659.1999999999999" stroke="#ff1744" stroke-width="1.5"/>
<line x1="85.1" y1="543.9" x2="85.1" y2="657.0" stroke="#ff1744" stroke-width="2.0"/>
<line x1="82.5" y1="544.5" x2="87.69999999999999" y2="544.5" stroke="#ff1744" stroke-width="1.5"/>
<line x1="82.5" y1="656.4" x2="87.69999999999999" y2="656.4" stroke="#ff1744" stroke-width="1.5"/>
<line x1="65.5" y1="633.6" x2="85.1" y2="600.6" stroke="#ff1744" stroke-width="1.1"/>
<line x1="104.4" y1="598.4" x2="104.4" y2="652.8" stroke="#6633ff" stroke-width="2.0"/>
<line x1="101.80000000000001" y1="599.0" x2="107.0" y2="599.0" stroke="#6633ff" stroke-width="1.5"/>
<line x1="101.80000000000001" y1="652.1999999999999" x2="107.0" y2="652.1999999999999" stroke="#6633ff" stroke-width="1.5"/>
<line x1="124.0" y1="541.5" x2="124.0" y2="643.7" stroke="#6633ff" stroke-width="2.0"/>
<line x1="121.4" y1="542.1" x2="126.6" y2="542.1" stroke="#6633ff" stroke-width="1.5"/>
<line x1="121.4" y1="643.1" x2="126.6" y2="643.1" stroke="#6633ff" stroke-width="1.5"/>
<line x1="104.4" y1="625.9" x2="124.0" y2="592.6" stroke="#6633ff" stroke-width="1.1"/>
<line x1="143.7" y1="590.5" x2="143.7" y2="653.4" stroke="#000000" stroke-width="2.0"/>
<line x1="141.1" y1="591.1" x2="146.29999999999998" y2="591.1" stroke="#000000" stroke-width="1.5"/>
<line x1="141.1" y1="652.8" x2="146.29999999999998" y2="652.8" stroke="#000000" stroke-width="1.5"/>
<line x1="163.3" y1="535.6" x2="163.3" y2="644.8" stroke="#000000" stroke-width="2.0"/>
<line x1="160.70000000000002" y1="536.2" x2="165.9" y2="536.2" stroke="#000000" stroke-width="1.5"/>
<line x1="160.70000000000002" y1="644.1999999999999" x2="165.9" y2="644.1999999999999" stroke="#000000" stroke-width="1.5"/>
<line x1="143.7" y1="621.6" x2="163.3" y2="590.0" stroke="#000000" stroke-width="1.1"/>
<line x1="208.9" y1="580.0" x2="208.9" y2="632.9" stroke="#ff1744" stroke-width="2.0"/>
<line x1="206.3" y1="580.6" x2="211.5" y2="580.6" stroke="#ff1744" stroke-width="1.5"/>
<line x1="206.3" y1="632.3" x2="211.5" y2="632.3" stroke="#ff1744" stroke-width="1.5"/>
<line x1="228.3" y1="495.7" x2="228.3" y2="612.9" stroke="#ff1744" stroke-width="2.0"/>
<line x1="225.70000000000002" y1="496.3" x2="230.9" y2="496.3" stroke="#ff1744" stroke-width="1.5"/>
<line x1="225.70000000000002" y1="612.3" x2="230.9" y2="612.3" stroke="#ff1744" stroke-width="1.5"/>
<line x1="208.9" y1="606.6" x2="228.3" y2="554.3" stroke="#ff1744" stroke-width="1.1"/>
<line x1="248.0" y1="560.3" x2="248.0" y2="626.6" stroke="#6633ff" stroke-width="2.0"/>
<line x1="245.4" y1="560.9" x2="250.6" y2="560.9" stroke="#6633ff" stroke-width="1.5"/>
<line x1="245.4" y1="626.0" x2="250.6" y2="626.0" stroke="#6633ff" stroke-width="1.5"/>
<line x1="267.4" y1="458.6" x2="267.4" y2="608.6" stroke="#6633ff" stroke-width="2.0"/>
<line x1="264.79999999999995" y1="459.20000000000005" x2="270.0" y2="459.20000000000005" stroke="#6633ff" stroke-width="1.5"/>
<line x1="264.79999999999995" y1="608.0" x2="270.0" y2="608.0" stroke="#6633ff" stroke-width="1.5"/>
<line x1="248.0" y1="593.4" x2="267.4" y2="533.4" stroke="#6633ff" stroke-width="1.1"/>
<line x1="287.1" y1="551.4" x2="287.1" y2="622.9" stroke="#000000" stroke-width="2.0"/>
<line x1="284.5" y1="552.0" x2="289.70000000000005" y2="552.0" stroke="#000000" stroke-width="1.5"/>
<line x1="284.5" y1="622.3" x2="289.70000000000005" y2="622.3" stroke="#000000" stroke-width="1.5"/>
<line x1="306.3" y1="426.3" x2="306.3" y2="599.4" stroke="#000000" stroke-width="2.0"/>
<line x1="303.7" y1="426.90000000000003" x2="308.90000000000003" y2="426.90000000000003" stroke="#000000" stroke-width="1.5"/>
<line x1="303.7" y1="598.8" x2="308.90000000000003" y2="598.8" stroke="#000000" stroke-width="1.5"/>
<line x1="287.1" y1="587.1" x2="306.3" y2="513.4" stroke="#000000" stroke-width="1.1"/>
<line x1="352.1" y1="598.6" x2="352.1" y2="653.7" stroke="#ff1744" stroke-width="2.0"/>
<line x1="349.5" y1="599.2" x2="354.70000000000005" y2="599.2" stroke="#ff1744" stroke-width="1.5"/>
<line x1="349.5" y1="653.1" x2="354.70000000000005" y2="653.1" stroke="#ff1744" stroke-width="1.5"/>
<line x1="371.6" y1="516.9" x2="371.6" y2="593.4" stroke="#ff1744" stroke-width="2.0"/>
<line x1="369.0" y1="517.5" x2="374.20000000000005" y2="517.5" stroke="#ff1744" stroke-width="1.5"/>
<line x1="369.0" y1="592.8" x2="374.20000000000005" y2="592.8" stroke="#ff1744" stroke-width="1.5"/>
<line x1="352.1" y1="626.0" x2="371.6" y2="555.1" stroke="#ff1744" stroke-width="1.1"/>
<line x1="391.3" y1="556.9" x2="391.3" y2="661.7" stroke="#6633ff" stroke-width="2.0"/>
<line x1="388.7" y1="557.5" x2="393.90000000000003" y2="557.5" stroke="#6633ff" stroke-width="1.5"/>
<line x1="388.7" y1="661.1" x2="393.90000000000003" y2="661.1" stroke="#6633ff" stroke-width="1.5"/>
<line x1="410.7" y1="512.3" x2="410.7" y2="609.7" stroke="#6633ff" stroke-width="2.0"/>
<line x1="408.09999999999997" y1="512.9" x2="413.3" y2="512.9" stroke="#6633ff" stroke-width="1.5"/>
<line x1="408.09999999999997" y1="609.1" x2="413.3" y2="609.1" stroke="#6633ff" stroke-width="1.5"/>
<line x1="391.3" y1="609.1" x2="410.7" y2="561.1" stroke="#6633ff" stroke-width="1.1"/>
<line x1="430.1" y1="539.1" x2="430.1" y2="660.9" stroke="#000000" stroke-width="2.0"/>
<line x1="427.5" y1="539.7" x2="432.70000000000005" y2="539.7" stroke="#000000" stroke-width="1.5"/>
<line x1="427.5" y1="660.3" x2="432.70000000000005" y2="660.3" stroke="#000000" stroke-width="1.5"/>
<line x1="449.6" y1="490.6" x2="449.6" y2="608.6" stroke="#000000" stroke-width="2.0"/>
<line x1="447.0" y1="491.20000000000005" x2="452.20000000000005" y2="491.20000000000005" stroke="#000000" stroke-width="1.5"/>
<line x1="447.0" y1="608.0" x2="452.20000000000005" y2="608.0" stroke="#000000" stroke-width="1.5"/>
<line x1="430.1" y1="600.0" x2="449.6" y2="549.4" stroke="#000000" stroke-width="1.1"/>
<line x1="495.3" y1="613.4" x2="495.3" y2="649.9" stroke="#ff1744" stroke-width="2.0"/>
<line x1="492.7" y1="614.0" x2="497.90000000000003" y2="614.0" stroke="#ff1744" stroke-width="1.5"/>
<line x1="492.7" y1="649.3" x2="497.90000000000003" y2="649.3" stroke="#ff1744" stroke-width="1.5"/>
<line x1="515.1" y1="441.0" x2="515.1" y2="575.9" stroke="#ff1744" stroke-width="2.0"/>
<line x1="512.5" y1="441.6" x2="517.7" y2="441.6" stroke="#ff1744" stroke-width="1.5"/>
<line x1="512.5" y1="575.3" x2="517.7" y2="575.3" stroke="#ff1744" stroke-width="1.5"/>
<line x1="495.3" y1="631.5" x2="515.1" y2="508.4" stroke="#ff1744" stroke-width="1.1"/>
<line x1="534.6" y1="611.3" x2="534.6" y2="650.3" stroke="#6633ff" stroke-width="2.0"/>
<line x1="532.0" y1="611.9" x2="537.2" y2="611.9" stroke="#6633ff" stroke-width="1.5"/>
<line x1="532.0" y1="649.6999999999999" x2="537.2" y2="649.6999999999999" stroke="#6633ff" stroke-width="1.5"/>
<line x1="554.1" y1="451.1" x2="554.1" y2="575.5" stroke="#6633ff" stroke-width="2.0"/>
<line x1="551.5" y1="451.70000000000005" x2="556.7" y2="451.70000000000005" stroke="#6633ff" stroke-width="1.5"/>
<line x1="551.5" y1="574.9" x2="556.7" y2="574.9" stroke="#6633ff" stroke-width="1.5"/>
<line x1="534.6" y1="630.8" x2="554.1" y2="513.3" stroke="#6633ff" stroke-width="1.1"/>
<line x1="573.5" y1="600.9" x2="573.5" y2="646.1" stroke="#000000" stroke-width="2.0"/>
<line x1="570.9" y1="601.5" x2="576.1" y2="601.5" stroke="#000000" stroke-width="1.5"/>
<line x1="570.9" y1="645.5" x2="576.1" y2="645.5" stroke="#000000" stroke-width="1.5"/>
<line x1="593.0" y1="422.6" x2="593.0" y2="550.9" stroke="#000000" stroke-width="2.0"/>
<line x1="590.4" y1="423.20000000000005" x2="595.6" y2="423.20000000000005" stroke="#000000" stroke-width="1.5"/>
<line x1="590.4" y1="550.3" x2="595.6" y2="550.3" stroke="#000000" stroke-width="1.5"/>
<line x1="573.5" y1="623.5" x2="593.0" y2="486.9" stroke="#000000" stroke-width="1.1"/>
<circle cx="65.5" cy="633.6" r="2.7" fill="#000"/>
<circle cx="85.1" cy="600.6" r="2.7" fill="#000"/>
<circle cx="104.4" cy="625.9" r="2.7" fill="#000"/>
<circle cx="124.0" cy="592.6" r="2.7" fill="#000"/>
<circle cx="143.7" cy="621.6" r="2.7" fill="#000"/>
<circle cx="163.3" cy="590.0" r="2.7" fill="#000"/>
<circle cx="208.9" cy="606.6" r="2.7" fill="#000"/>
<circle cx="228.3" cy="554.3" r="2.7" fill="#000"/>
<circle cx="248.0" cy="593.4" r="2.7" fill="#000"/>
<circle cx="267.4" cy="533.4" r="2.7" fill="#000"/>
<circle cx="287.1" cy="587.1" r="2.7" fill="#000"/>
<circle cx="306.3" cy="513.4" r="2.7" fill="#000"/>
<circle cx="352.1" cy="626.0" r="2.7" fill="#000"/>
<circle cx="371.6" cy="555.1" r="2.7" fill="#000"/>
<circle cx="391.3" cy="609.1" r="2.7" fill="#000"/>
<circle cx="410.7" cy="561.1" r="2.7" fill="#000"/>
<circle cx="430.1" cy="600.0" r="2.7" fill="#000"/>
<circle cx="449.6" cy="549.4" r="2.7" fill="#000"/>
<circle cx="495.3" cy="631.5" r="2.7" fill="#000"/>
<circle cx="515.1" cy="508.4" r="2.7" fill="#000"/>
<circle cx="534.6" cy="630.8" r="2.7" fill="#000"/>
<circle cx="554.1" cy="513.3" r="2.7" fill="#000"/>
<circle cx="573.5" cy="623.5" r="2.7" fill="#000"/>
<circle cx="593.0" cy="486.9" r="2.7" fill="#000"/>
</svg>
</body></html>
